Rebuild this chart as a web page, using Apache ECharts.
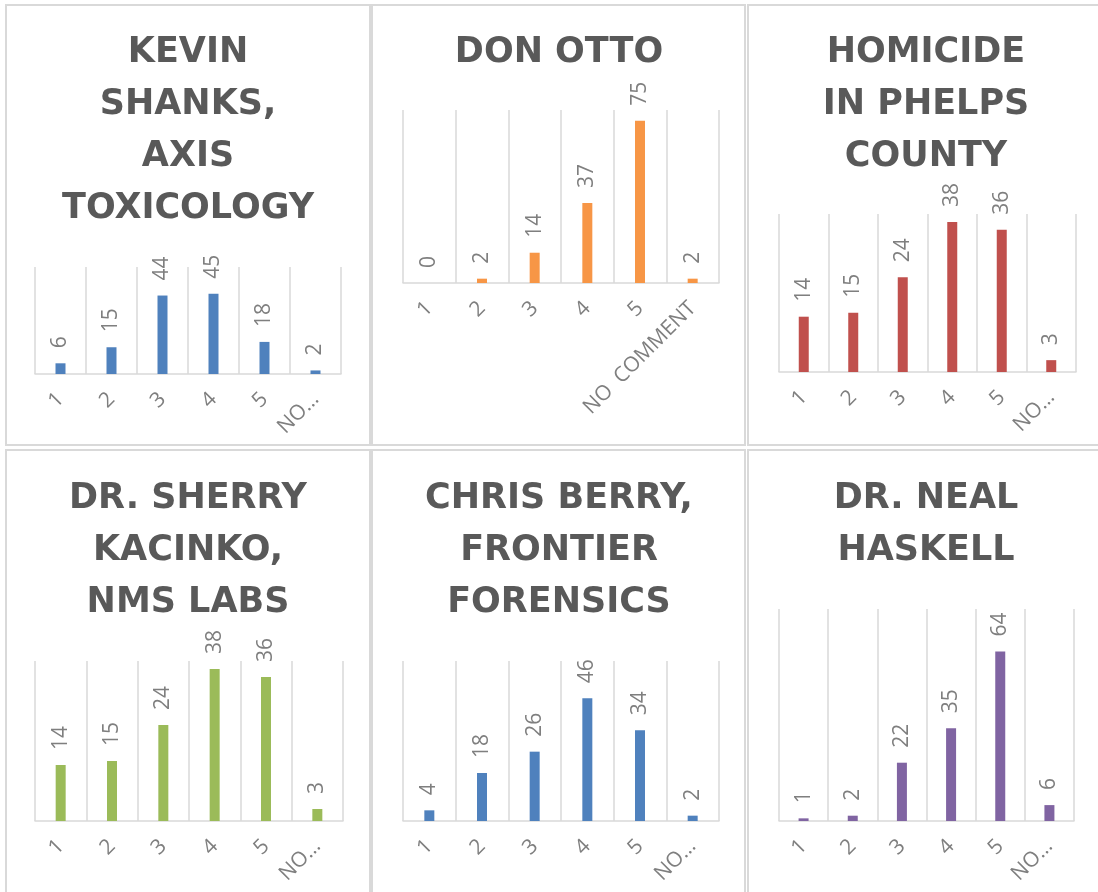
<!DOCTYPE html>
<html>
<head>
    <meta charset="utf-8">
    <title>Speaker ratings</title>
    <script src="https://cdn.jsdelivr.net/npm/echarts@6/dist/echarts.min.js"></script>
    <style>
        html, body { margin: 0; padding: 0; background: #fff; }
        #main { width: 1098px; height: 892px; }
    </style>
</head>
<body>
<div id="main"></div>
<script type="text/javascript">
    // ratings 1..5 plus "no comment"
    var categories = ['1', '2', '3', '4', '5', 'NO COMMENT'];

    var titles = [
        'KEVIN\nSHANKS,\nAXIS\nTOXICOLOGY',
        'DON OTTO',
        'HOMICIDE\nIN PHELPS\nCOUNTY',
        'DR. SHERRY\nKACINKO,\nNMS LABS',
        'CHRIS BERRY,\nFRONTIER\nFORENSICS',
        'DR. NEAL\nHASKELL'
    ];

    var shanksValues  = [6, 15, 44, 45, 18, 2];
    var ottoValues    = [0, 2, 14, 37, 75, 2];
    var phelpsValues  = [14, 15, 24, 38, 36, 3];
    var kacinkoValues = [14, 15, 24, 38, 36, 3];
    var berryValues   = [4, 18, 26, 46, 34, 2];
    var haskellValues = [1, 2, 22, 35, 64, 6];

    var axisMax = [60, 80, 40, 40, 60, 80];

    var seriesData = [shanksValues, ottoValues, phelpsValues, kacinkoValues, berryValues, haskellValues];
    var colors = ['#4f81bd', '#f79646', '#c0504d', '#9bbb59', '#4f81bd', '#8064a2'];

    // layout of the six little charts (px)
    var panels = [
        {x: 6,   y: 5,   w: 364, h: 440, cx: 188, titleTop: 27,  grid: [35, 267, 306, 107], full: false},
        {x: 372, y: 5,   w: 373, h: 440, cx: 559, titleTop: 27,  grid: [403, 110, 316, 173], full: true},
        {x: 748, y: 5,   w: 360, h: 440, cx: 926, titleTop: 27,  grid: [779, 214, 297, 158], full: false},
        {x: 6,   y: 450, w: 364, h: 460, cx: 188, titleTop: 473, grid: [35, 661, 308, 160], full: false},
        {x: 372, y: 450, w: 373, h: 460, cx: 559, titleTop: 473, grid: [403, 661, 316, 160], full: false},
        {x: 748, y: 450, w: 360, h: 460, cx: 926, titleTop: 473, grid: [779, 609, 295, 212], full: false}
    ];

    var labelFont = '"Open Sans", "Liberation Sans", sans-serif';
    var gray = '#7f7f7f';
    var lineGray = '#d9d9d9';

    var title = [], grid = [], xAxis = [], yAxis = [], series = [], graphic = [];

    for (var i = 0; i < panels.length; i++) {
        var p = panels[i];
        graphic.push({
            type: 'rect',
            shape: {x: p.x, y: p.y, width: p.w, height: p.h},
            style: {fill: null, stroke: lineGray, lineWidth: 2},
            silent: true
        });
        title.push({
            text: titles[i],
            left: p.cx,
            top: p.titleTop,
            padding: 0,
            textAlign: 'center',
            textStyle: {
                fontFamily: '"DejaVu Sans", sans-serif',
                fontWeight: 'bold',
                fontSize: 35,
                lineHeight: 52,
                color: '#595959'
            }
        });
        grid.push({left: p.grid[0], top: p.grid[1], width: p.grid[2], height: p.grid[3]});
        xAxis.push({
            type: 'category',
            gridIndex: i,
            data: categories,
            boundaryGap: true,
            axisLine: {lineStyle: {color: lineGray, width: 1.5}},
            axisTick: {show: false},
            splitLine: {show: true, lineStyle: {color: lineGray, width: 1.5}},
            axisLabel: {
                rotate: 45,
                margin: 22,
                interval: 0,
                color: gray,
                fontSize: 21,
                fontFamily: labelFont,
                formatter: p.full ? function (v) {
                    return v.split(' ').join('  ');
                } : function (v) {
                    // narrow panels: Excel cuts the long label
                    return v.length > 2 ? v.split(' ')[0] + '\u2026' : v;
                }
            }
        });
        yAxis.push({
            type: 'value',
            gridIndex: i,
            min: 0,
            max: axisMax[i],
            show: false
        });
        series.push({
            type: 'bar',
            xAxisIndex: i,
            yAxisIndex: i,
            data: seriesData[i],
            barWidth: 10,
            itemStyle: {color: colors[i]},
            label: {
                show: true,
                position: 'top',
                rotate: 90,
                align: 'left',
                verticalAlign: 'middle',
                distance: 15,
                color: gray,
                fontSize: 21,
                fontFamily: labelFont
            }
        });
    }

    var myChart = echarts.init(document.getElementById('main'));
    myChart.setOption({
        animation: false,
        backgroundColor: '#fff',
        title: title,
        grid: grid,
        xAxis: xAxis,
        yAxis: yAxis,
        series: series,
        graphic: graphic
    });
</script>
</body>
</html>
